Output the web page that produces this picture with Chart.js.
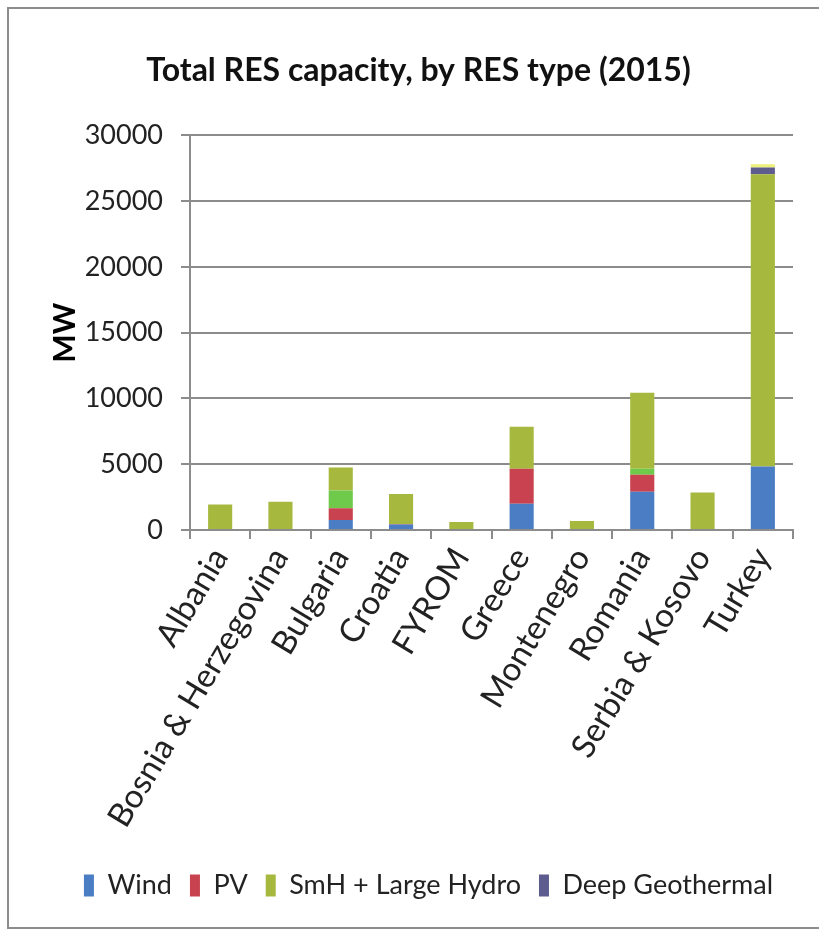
<!DOCTYPE html>
<html>
<head>
<meta charset="utf-8">
<script src="https://cdn.jsdelivr.net/npm/chart.js@4/dist/chart.umd.min.js"></script>
<style>
  html, body { margin: 0; padding: 0; background: #fff; }
  #wrap { position: relative; width: 819px; height: 933px; overflow: hidden; background: #fff; }
  #frame { position: absolute; left: 7px; top: 7px; width: 840px; height: 922px; border: 2px solid #8c8c8c; box-sizing: border-box; }
  canvas { position: absolute; left: 0; top: 0; }
</style>
</head>
<body>
<div id="wrap">
  <div id="frame"></div>
  <canvas id="chart" width="819" height="933"></canvas>
</div>
<script>
// Installed capacity of renewable sources in 2015, MW
const countries = ['Albania', 'Bosnia & Herzegovina', 'Bulgaria', 'Croatia', 'FYROM',
                   'Greece', 'Montenegro', 'Romania', 'Serbia & Kosovo', 'Turkey'];
const wind       = [0, 0, 760, 420, 0, 2000, 0, 2900, 0, 4830];
const pv         = [0, 0, 900, 40, 0, 2650, 0, 1300, 0, 0];
const biomass    = [0, 0, 1350, 0, 0, 0, 0, 450, 0, 0];
const hydro      = [1930, 2150, 1750, 2280, 600, 3200, 680, 5780, 2850, 22210];
const geothermal = [0, 0, 0, 0, 0, 0, 0, 0, 0, 520];
const other      = [0, 0, 0, 0, 0, 0, 0, 0, 0, 250];
const yTicks     = [0, 5000, 10000, 15000, 20000, 25000, 30000];

const FONT = "Lato, 'Open Sans', sans-serif";
const hiddenInLegend = ['Biomass', 'Other'];

// Nudge the title and legend to the right of the padded box centre
const centreShift = {
  id: 'centreShift',
  afterLayout(chart) {
    if (chart.titleBlock) { chart.titleBlock.left += 18; chart.titleBlock.right += 18; }
    if (chart.legend) { chart.legend.left += 28; chart.legend.right += 28; }
  }
};

new Chart(document.getElementById('chart'), {
  type: 'bar',
  data: {
    labels: countries,
    datasets: [
      { label: 'Wind', data: wind, backgroundColor: '#4a7dc4' },
      { label: 'PV', data: pv, backgroundColor: '#c8434f' },
      { label: 'Biomass', data: biomass, backgroundColor: '#6fc94a' },
      { label: 'SmH + Large Hydro', data: hydro, backgroundColor: '#a6b93e' },
      { label: 'Deep Geothermal', data: geothermal, backgroundColor: '#5e5c8e' },
      { label: 'Other', data: other, backgroundColor: '#eef07a' }
    ]
  },
  plugins: [centreShift],
  options: {
    responsive: false,
    animation: false,
    layout: { padding: { left: 8, right: 26, top: 0, bottom: 24 } },
    datasets: { bar: { categoryPercentage: 1.0, barPercentage: 0.4 } },
    plugins: {
      title: {
        display: true,
        text: 'Total RES capacity, by RES type (2015)',
        color: '#111',
        font: { family: FONT, size: 32, weight: 'bold' },
        padding: { top: 51, bottom: 46 }
      },
      legend: {
        position: 'bottom',
        labels: {
          color: '#222',
          font: { family: FONT, size: 27 },
          boxWidth: 10,
          boxHeight: 22,
          padding: 18,
          filter: (item) => !hiddenInLegend.includes(item.text)
        }
      },
      tooltip: { enabled: false }
    },
    scales: {
      x: {
        stacked: true,
        afterFit: (scale) => { scale.height = 324; },
        grid: { display: true, drawOnChartArea: false, drawTicks: true, tickLength: 9, color: '#8c8c8c', lineWidth: 2 },
        border: { display: true, color: '#8c8c8c', width: 2 },
        ticks: {
          color: '#222',
          font: { family: FONT, size: 33 },
          minRotation: 59,
          maxRotation: 59,
          autoSkip: false,
          padding: 2
        }
      },
      y: {
        stacked: true,
        min: 0,
        max: 30000,
        afterFit: (scale) => { scale.width = 182; },
        afterBuildTicks: (scale) => { scale.ticks = yTicks.map(v => ({ value: v })); },
        grid: { color: '#8c8c8c', lineWidth: 2, drawTicks: true, tickLength: 9 },
        border: { display: true, color: '#8c8c8c', width: 2 },
        ticks: {
          color: '#222',
          font: { family: FONT, size: 27 },
          padding: 18,
          callback: (v) => String(v)
        },
        title: {
          display: true,
          text: 'MW',
          color: '#000',
          font: { family: FONT, size: 30, weight: 'bold' },
          padding: { top: 39, bottom: 0 }
        }
      }
    }
  }
});
</script>
</body>
</html>
